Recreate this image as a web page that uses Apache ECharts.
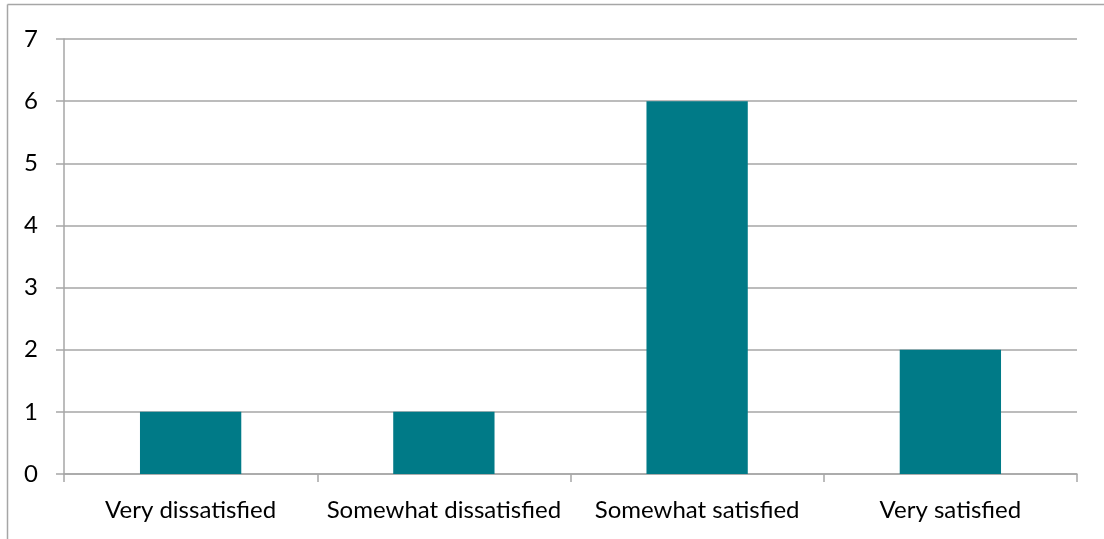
<!DOCTYPE html>
<html>
<head>
<meta charset="utf-8">
<script src="https://cdn.jsdelivr.net/npm/echarts@6/dist/echarts.min.js"></script>
<style>
  html, body { margin: 0; padding: 0; background: #fff; }
  #chart { width: 1104px; height: 539px; }
</style>
</head>
<body>
<div id="chart"></div>
<script>
// Survey responses: satisfaction levels and their counts
const categories = ['Very dissatisfied', 'Somewhat dissatisfied', 'Somewhat satisfied', 'Very satisfied'];
const counts = [1, 1, 6, 2];
const yTicks = { min: 0, max: 7, interval: 1 };

const gridColor = '#A6A6A6';
const barColor = '#007A87';
const fontFamily = 'Lato, "Open Sans", sans-serif';

const chart = echarts.init(document.getElementById('chart'), null, { renderer: 'canvas' });
chart.setOption({
  animation: false,
  backgroundColor: '#fff',
  graphic: [
    // outer chart frame (top and left edges)
    { type: 'line', shape: { x1: 7.5, y1: 4.5, x2: 1104, y2: 4.5 }, style: { stroke: gridColor, lineWidth: 1.5 } },
    { type: 'line', shape: { x1: 7.5, y1: 4.5, x2: 7.5, y2: 539 }, style: { stroke: gridColor, lineWidth: 1.5 } }
  ],
  grid: { left: 64, right: 27, top: 39, bottom: 65, containLabel: false },
  xAxis: {
    type: 'category',
    data: categories,
    boundaryGap: true,
    axisLine: { show: true, lineStyle: { color: gridColor, width: 1.5 } },
    axisTick: { show: true, alignWithLabel: false, length: 8, lineStyle: { color: gridColor, width: 1.5 } },
    axisLabel: { color: '#000', fontSize: 24, fontFamily, margin: 24, interval: 0 },
    splitLine: { show: false }
  },
  yAxis: {
    type: 'value',
    min: yTicks.min,
    max: yTicks.max,
    interval: yTicks.interval,
    axisLine: { show: true, lineStyle: { color: gridColor, width: 1.5 } },
    axisTick: { show: true, inside: false, length: 8, lineStyle: { color: gridColor, width: 1.5 } },
    axisLabel: { color: '#000', fontSize: 24, fontFamily, margin: 26 },
    splitLine: { show: true, lineStyle: { color: gridColor, width: 1.5 } }
  },
  series: [{
    type: 'bar',
    data: counts,
    barWidth: '40%',
    itemStyle: { color: barColor },
    emphasis: { disabled: true }
  }]
});
</script>
</body>
</html>
